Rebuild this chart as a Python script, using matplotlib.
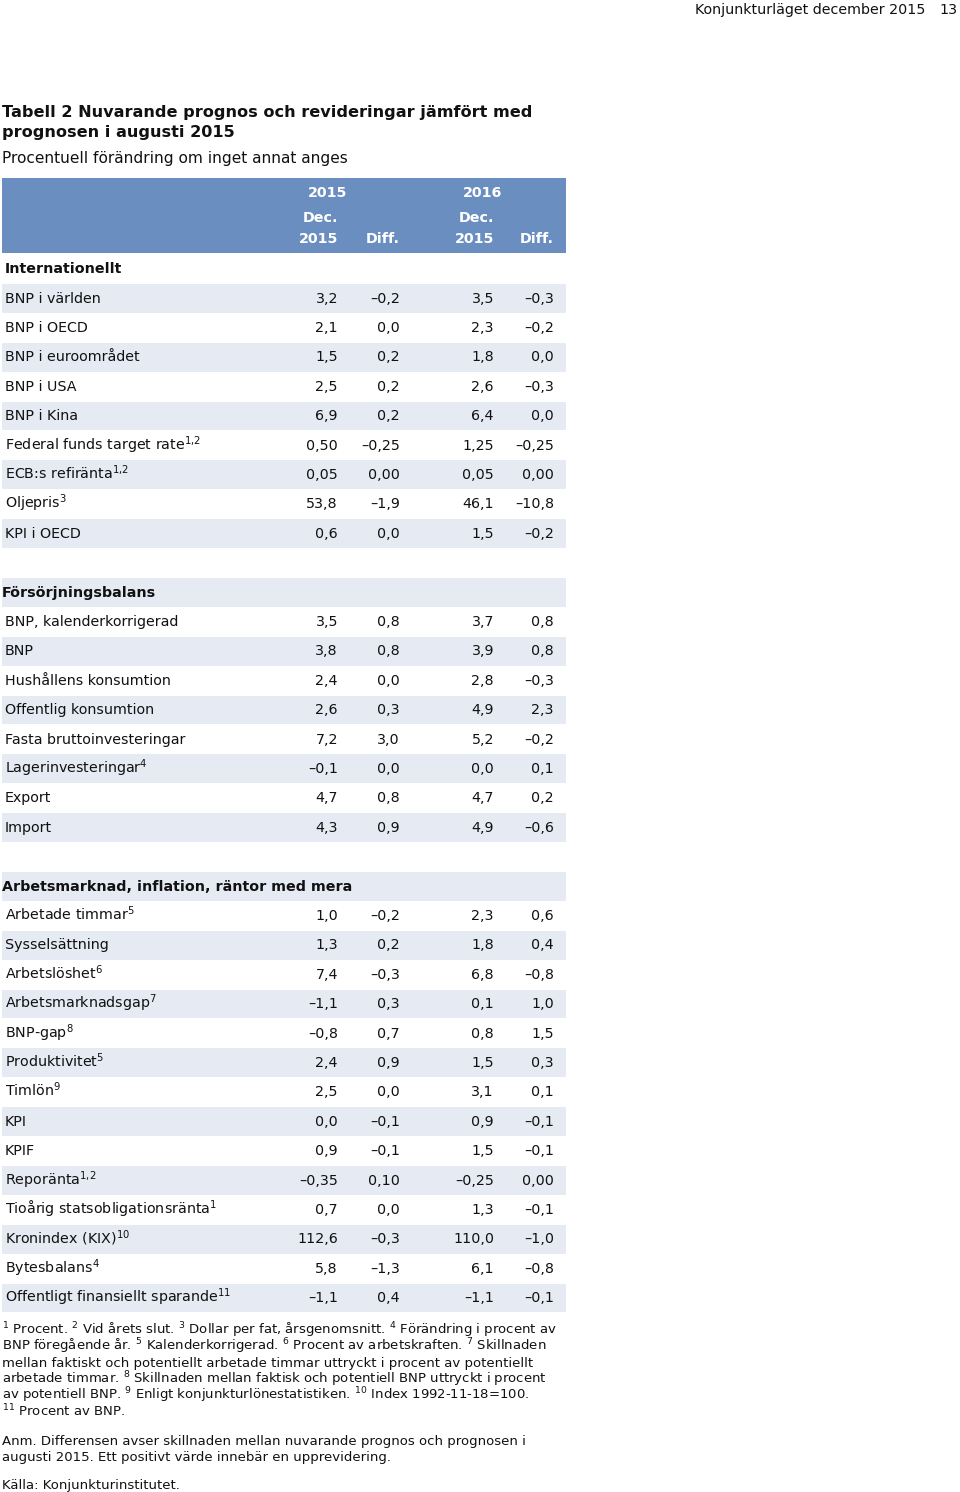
import matplotlib
matplotlib.use("Agg")
import matplotlib.pyplot as plt

plt.rcParams['font.family'] = ['DejaVu Sans']
plt.rcParams['mathtext.fontset'] = 'dejavusans'
plt.rcParams['mathtext.default'] = 'regular'

# ---------------- data ----------------
page_header = "Konjunkturläget december 2015"
page_number = "13"
title_lines = ["Tabell 2 Nuvarande prognos och revideringar jämfört med",
               "prognosen i augusti 2015"]
subtitle = "Procentuell förändring om inget annat anges"
years = ["2015", "2016"]

sections = ["Internationellt", "Försörjningsbalans",
            "Arbetsmarknad, inflation, räntor med mera"]

intl_labels = ["BNP i världen", "BNP i OECD", "BNP i euroområdet", "BNP i USA",
               "BNP i Kina", "Federal funds target rate$^{1{,}2}$",
               "ECB:s refiränta$^{1{,}2}$", "Oljepris$^{3}$", "KPI i OECD"]
intl_dec15 = [3.2, 2.1, 1.5, 2.5, 6.9, 0.50, 0.05, 53.8, 0.6]
intl_diff15 = [-0.2, 0.0, 0.2, 0.2, 0.2, -0.25, 0.00, -1.9, 0.0]
intl_dec16 = [3.5, 2.3, 1.8, 2.6, 6.4, 1.25, 0.05, 46.1, 1.5]
intl_diff16 = [-0.3, -0.2, 0.0, -0.3, 0.0, -0.25, 0.00, -10.8, -0.2]
intl_decimals = [1, 1, 1, 1, 1, 2, 2, 1, 1]

fors_labels = ["BNP, kalenderkorrigerad", "BNP", "Hushållens konsumtion",
               "Offentlig konsumtion", "Fasta bruttoinvesteringar",
               "Lagerinvesteringar$^{4}$", "Export", "Import"]
fors_dec15 = [3.5, 3.8, 2.4, 2.6, 7.2, -0.1, 4.7, 4.3]
fors_diff15 = [0.8, 0.8, 0.0, 0.3, 3.0, 0.0, 0.8, 0.9]
fors_dec16 = [3.7, 3.9, 2.8, 4.9, 5.2, 0.0, 4.7, 4.9]
fors_diff16 = [0.8, 0.8, -0.3, 2.3, -0.2, 0.1, 0.2, -0.6]
fors_decimals = [1] * 8

arb_labels = ["Arbetade timmar$^{5}$", "Sysselsättning", "Arbetslöshet$^{6}$",
              "Arbetsmarknadsgap$^{7}$", "BNP-gap$^{8}$", "Produktivitet$^{5}$",
              "Timlön$^{9}$", "KPI", "KPIF", "Reporänta$^{1{,}2}$",
              "Tioårig statsobligationsränta$^{1}$", "Kronindex (KIX)$^{10}$",
              "Bytesbalans$^{4}$", "Offentligt finansiellt sparande$^{11}$"]
arb_dec15 = [1.0, 1.3, 7.4, -1.1, -0.8, 2.4, 2.5, 0.0, 0.9, -0.35, 0.7, 112.6, 5.8, -1.1]
arb_diff15 = [-0.2, 0.2, -0.3, 0.3, 0.7, 0.9, 0.0, -0.1, -0.1, 0.10, 0.0, -0.3, -1.3, 0.4]
arb_dec16 = [2.3, 1.8, 6.8, 0.1, 0.8, 1.5, 3.1, 0.9, 1.5, -0.25, 1.3, 110.0, 6.1, -1.1]
arb_diff16 = [0.6, 0.4, -0.8, 1.0, 1.5, 0.3, 0.1, -0.1, -0.1, 0.00, -0.1, -1.0, -0.8, -0.1]
arb_decimals = [1] * 9 + [2] + [1] * 4

footnote_lines = [
    "$^{1}$ Procent. $^{2}$ Vid årets slut. $^{3}$ Dollar per fat, årsgenomsnitt. $^{4}$ Förändring i procent av",
    "BNP föregående år. $^{5}$ Kalenderkorrigerad. $^{6}$ Procent av arbetskraften. $^{7}$ Skillnaden",
    "mellan faktiskt och potentiellt arbetade timmar uttryckt i procent av potentiellt",
    "arbetade timmar. $^{8}$ Skillnaden mellan faktisk och potentiell BNP uttryckt i procent",
    "av potentiell BNP. $^{9}$ Enligt konjunkturlönestatistiken. $^{10}$ Index 1992-11-18=100.",
    "$^{11}$ Procent av BNP.",
]
note_lines = ["Anm. Differensen avser skillnaden mellan nuvarande prognos och prognosen i",
              "augusti 2015. Ett positivt värde innebär en upprevidering."]
source = "Källa: Konjunkturinstitutet."

# ---------------- style ----------------
HEAD_BLUE = "#6A8EBF"
STRIPE = "#E5EAF3"
TXT = "#111111"
FS = 10.3
FS_TITLE = 11.6
FS_SUB = 11.05
FS_NOTE = 9.5


def fmt(v, d):
    s = f"{v:.{d}f}".replace(".", ",")
    return s.replace("-", "\u2013")


fig = plt.figure(figsize=(9.6, 14.92), dpi=100)
ax = fig.add_axes([0, 0, 1, 1])
ax.set_xlim(0, 960)
ax.set_ylim(1492, 0)
ax.axis("off")

# page header
ax.text(925, 10, page_header, ha="right", va="center", fontsize=FS, color=TXT)
ax.text(958, 10, page_number, ha="right", va="center", fontsize=FS, color=TXT)

# title
for i, t in enumerate(title_lines):
    ax.text(2, 113 + 19 * i, t, ha="left", va="center", fontsize=FS_TITLE,
            fontweight="bold", color=TXT)
ax.text(2, 158, subtitle, ha="left", va="center", fontsize=FS_SUB, color=TXT)

# table header band
ax.barh([215], [564], left=2, height=75, color=HEAD_BLUE, linewidth=0)
col_right = [338, 400, 494, 554]
year_centers = [328, 483]
for yc, yr in zip(year_centers, years):
    ax.text(yc, 193, yr, ha="center", va="center", fontsize=FS,
            fontweight="bold", color="white")
for k in range(2):
    ax.text(col_right[2 * k], 218, "Dec.", ha="right", va="center",
            fontsize=FS, fontweight="bold", color="white")
    ax.text(col_right[2 * k], 239, "2015", ha="right", va="center",
            fontsize=FS, fontweight="bold", color="white")
    ax.text(col_right[2 * k + 1], 239, "Diff.", ha="right", va="center",
            fontsize=FS, fontweight="bold", color="white")

# rows
Y0 = 268.0
PITCH = 29.4
blocks = [
    (sections[0], 5, intl_labels, intl_dec15, intl_diff15, intl_dec16, intl_diff16, intl_decimals),
    (sections[1], 2, fors_labels, fors_dec15, fors_diff15, fors_dec16, fors_diff16, fors_decimals),
    (sections[2], 2, arb_labels, arb_dec15, arb_diff15, arb_dec16, arb_diff16, arb_decimals),
]
rows = []
for bi, blk in enumerate(blocks):
    if bi > 0:
        rows.append(("blank", None))
    rows.append(("section", blk))
    for j in range(len(blk[2])):
        rows.append(("data", (blk, j)))

stripe_y = [Y0 + PITCH * i + 1 for i in range(len(rows)) if i % 2 == 1]
ax.barh(stripe_y, [564] * len(stripe_y), left=2, height=PITCH - 0.6,
        color=STRIPE, linewidth=0)

for i, (kind, payload) in enumerate(rows):
    yc = Y0 + PITCH * i
    yb = yc + 5.2
    if kind == "section":
        ax.text(payload[1], yb, payload[0], ha="left", va="baseline",
                fontsize=FS, fontweight="bold", color=TXT)
    elif kind == "data":
        blk, j = payload
        _, _, labels, a, b, c, d, dec = blk
        ax.text(5, yb, labels[j], ha="left", va="baseline", fontsize=FS, color=TXT)
        for xr, arr in zip(col_right, (a, b, c, d)):
            ax.text(xr, yb, fmt(arr[j], dec[j]), ha="right", va="baseline",
                    fontsize=FS, color=TXT)

# footnotes
for i, t in enumerate(footnote_lines):
    ax.text(2, 1330 + 16.3 * i + 4.5, t, ha="left", va="baseline", fontsize=FS_NOTE, color=TXT)
for i, t in enumerate(note_lines):
    ax.text(2, 1440 + 16.3 * i + 4.5, t, ha="left", va="baseline", fontsize=FS_NOTE, color=TXT)
ax.text(2, 1484 + 4.5, source, ha="left", va="baseline", fontsize=FS_NOTE, color=TXT)

fig.savefig("out.png", dpi=100, facecolor="white")
